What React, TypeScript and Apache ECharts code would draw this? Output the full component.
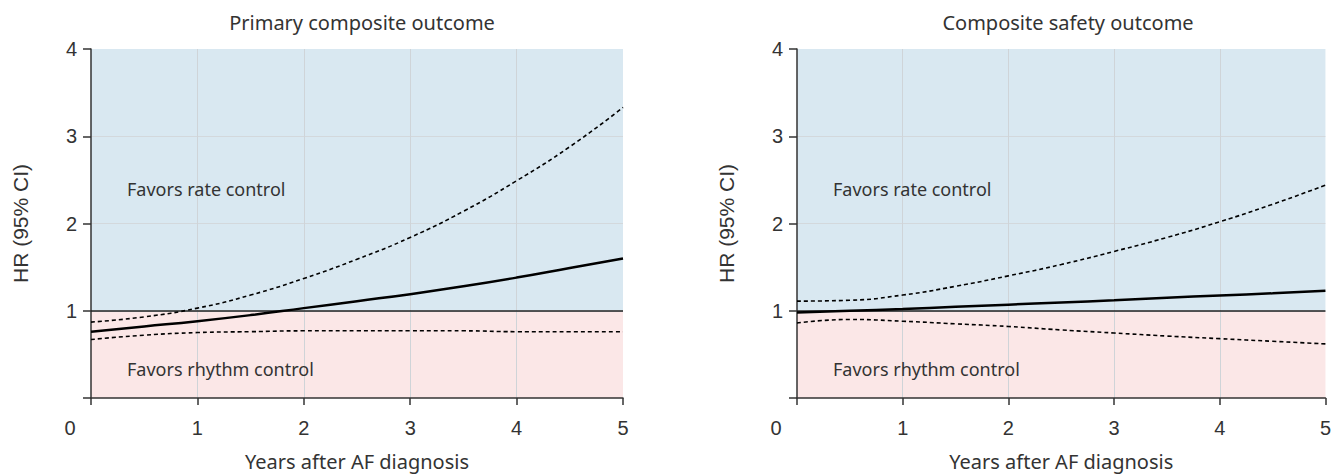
import React, { useEffect, useRef } from "react";
import * as echarts from "echarts";

const years = [0, 0.5, 1, 1.5, 2, 2.5, 3, 3.5, 4, 4.5, 5];

const primaryHR = [0.76, 0.82, 0.88, 0.95, 1.03, 1.11, 1.19, 1.28, 1.38, 1.49, 1.6];
const primaryUpper = [0.87, 0.93, 1.03, 1.18, 1.37, 1.59, 1.84, 2.14, 2.49, 2.88, 3.33];
const primaryLower = [0.67, 0.72, 0.75, 0.76, 0.77, 0.77, 0.77, 0.77, 0.76, 0.76, 0.76];

const safetyHR = [0.98, 1.0, 1.02, 1.045, 1.07, 1.095, 1.12, 1.15, 1.175, 1.2, 1.23];
const safetyUpper = [1.11, 1.12, 1.18, 1.28, 1.4, 1.53, 1.68, 1.84, 2.02, 2.22, 2.44];
const safetyLower = [0.86, 0.9, 0.88, 0.85, 0.82, 0.78, 0.745, 0.71, 0.68, 0.65, 0.62];

const panelTitles = ["Primary composite outcome", "Composite safety outcome"];
const xTicks = [0, 1, 2, 3, 4, 5];
const yTicks = [0, 1, 2, 3, 4];
const xAxisName = "Years after AF diagnosis";
const yAxisName = "HR (95% CI)";
const upperLabel = "Favors rate control";
const lowerLabel = "Favors rhythm control";

const TEXT = "#333333";
const SANS = "'Noto Sans', sans-serif";
const ARIAL = "'Liberation Sans', Arial, sans-serif";

const pairs = (ys: number[]) => years.map((x, i) => [x, ys[i]]);

export default function App() {
  const ref = useRef<HTMLDivElement>(null);
  useEffect(() => {
    if (!ref.current) return;
    const chart = echarts.init(ref.current, null, { renderer: "svg" });
    const grids = [
      { left: 91, top: 49, width: 532, height: 354 },
      { left: 797, top: 49, width: 532, height: 354 },
    ];
    const panels = [
      [primaryHR, primaryUpper, primaryLower],
      [safetyHR, safetyUpper, safetyLower],
    ];
    const xAxes = grids.map((_, i) => ({
      type: "value",
      gridIndex: i,
      min: xTicks[0],
      max: xTicks[xTicks.length - 1],
      interval: 1,
      z: 1,
      name: xAxisName,
      nameLocation: "middle",
      nameGap: 53,
      nameTextStyle: { fontFamily: SANS, fontSize: 20, color: TEXT },
      axisLine: { show: true, lineStyle: { color: "#333", width: 1.5 } },
      axisTick: { show: true, length: 7, lineStyle: { color: "#333", width: 1.5 } },
      axisLabel: {
        margin: 20,
        fontFamily: ARIAL,
        fontSize: 20,
        color: TEXT,
        formatter: (v: number) => (v === 0 ? "{z|0}" : String(v)),
        rich: { z: { fontFamily: ARIAL, fontSize: 20, color: TEXT, padding: [0, 42, 0, 0] } },
      },
      splitLine: {
        show: true,
        showMinLine: false,
        showMaxLine: false,
        lineStyle: { color: "#cfd4d8", width: 1 },
      },
    }));
    const yAxes = grids.map((_, i) => ({
      type: "value",
      gridIndex: i,
      min: yTicks[0],
      max: yTicks[yTicks.length - 1],
      interval: 1,
      z: 0,
      name: yAxisName,
      nameLocation: "middle",
      nameGap: 60,
      nameTextStyle: { fontFamily: ARIAL, fontSize: 21, color: TEXT },
      axisLine: { show: true, lineStyle: { color: "#333", width: 1.5 } },
      axisTick: { show: true, length: 8, lineStyle: { color: "#333", width: 1.5 } },
      axisLabel: {
        margin: 14,
        fontFamily: ARIAL,
        fontSize: 20,
        color: TEXT,
        formatter: (v: number) => (v === 0 ? "" : String(v)),
      },
      splitLine: {
        show: true,
        showMinLine: false,
        showMaxLine: false,
        lineStyle: { color: "#d3d8dc", width: 1 },
      },
      splitArea: {
        show: true,
        areaStyle: { color: ["#fbe7e7", "#d9e8f1", "#d9e8f1", "#d9e8f1"] },
      },
    }));
    const series: any[] = [];
    panels.forEach((p, i) => {
      series.push({
        type: "line",
        xAxisIndex: i,
        yAxisIndex: i,
        data: pairs(p[0]),
        smooth: true,
        symbol: "none",
        lineStyle: { color: "#000", width: 2.5 },
        z: 4,
        markLine: {
          silent: true,
          symbol: ["none", "none"],
          label: { show: false },
          lineStyle: { color: "#222", width: 1.5, type: "solid" },
          data: [{ yAxis: 1 }],
          z: 3,
        },
      });
      [p[1], p[2]].forEach((d) =>
        series.push({
          type: "line",
          xAxisIndex: i,
          yAxisIndex: i,
          data: pairs(d),
          smooth: true,
          symbol: "none",
          lineStyle: { color: "#000", width: 1.6, type: [4, 3] },
          z: 4,
        })
      );
    });
    const graphic: any[] = [];
    grids.forEach((g) => {
      graphic.push({
        type: "text",
        x: g.left + 36,
        y: 189,
        z: 100,
        style: { text: upperLabel, fontFamily: SANS, fontSize: 18, fill: TEXT, verticalAlign: "middle" },
      });
      graphic.push({
        type: "text",
        x: g.left + 36,
        y: 369,
        z: 100,
        style: { text: lowerLabel, fontFamily: SANS, fontSize: 18, fill: TEXT, verticalAlign: "middle" },
      });
    });
    chart.setOption({
      animation: false,
      backgroundColor: "#ffffff",
      title: grids.map((g, i) => ({
        text: panelTitles[i],
        left: g.left + g.width / 2,
        top: 7,
        textAlign: "center",
        textStyle: { fontFamily: SANS, fontSize: 20, fontWeight: "normal", color: TEXT },
      })),
      grid: grids,
      xAxis: xAxes,
      yAxis: yAxes,
      series,
      graphic,
    });
    return () => chart.dispose();
  }, []);
  return (
    <div
      ref={ref}
      style={{ position: "fixed", left: 0, top: 0, width: 1334, height: 476 }}
    />
  );
}
